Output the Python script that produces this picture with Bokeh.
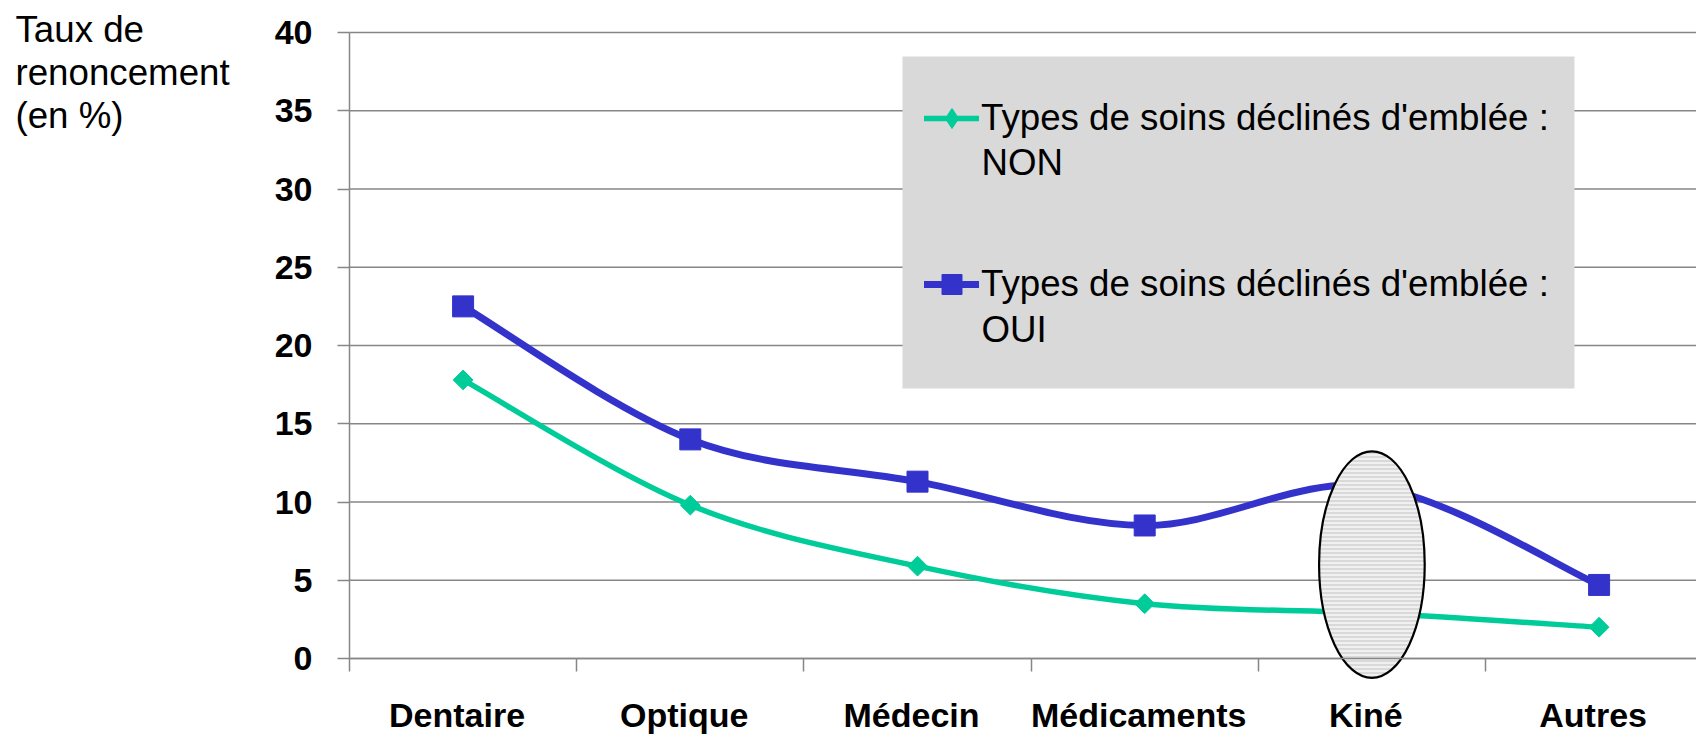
import numpy as np
from bokeh.plotting import figure
from bokeh.models import (Range1d, FixedTicker, BoxAnnotation, Label, Legend, LegendItem)
from bokeh.embed import file_html
from bokeh.resources import INLINE

# ---------------- data ----------------
categories = ["Dentaire", "Optique", "Médecin", "Médicaments", "Kiné", "Autres"]
non_values = [17.8, 9.8, 5.9, 3.5, 2.9, 2.0]
oui_values = [22.5, 14.0, 11.3, 8.5, 11.0, 4.7]
y_ticks = [0, 5, 10, 15, 20, 25, 30, 35, 40]
series_label = "Types de soins déclinés d'emblée :"
series_suffix = ["NON", "OUI"]
y_title_lines = ["Taux de", "renoncement", "(en %)"]
highlight_category = "Kiné"

# ---------------- style / layout ----------------
GREEN = "#00CC99"
BLUE = "#3333CC"
GRID = "#868686"
BOX = "#D9D9D9"
FONT = "Liberation Sans"

W, H = 1696, 736
AX_X0, AX_Y0, AX_Y40 = 349, 658, 32      # pixel position of the axes origin / top
CAT_PX = 227.2
Y_MAX = 40.0
Y_PX = (AX_Y0 - AX_Y40) / Y_MAX
TXT_SHIFT = 11
LABEL_DX = 6 / CAT_PX                     # category labels sit slightly left of centre


def dx(px):
    return (px - AX_X0) / CAT_PX


def dy(py):
    return (AX_Y0 - py) / Y_PX


n = len(categories)
xs = [i + 0.5 for i in range(n)]
X_END = dx(W)


def bezier_segments(x, y):
    x = np.asarray(x, float)
    y = np.asarray(y, float)
    m = len(x)
    d = dict(x0=[], y0=[], x1=[], y1=[], cx0=[], cy0=[], cx1=[], cy1=[])
    for i in range(m - 1):
        ip = max(i - 1, 0)
        inn = min(i + 2, m - 1)
        d["x0"].append(x[i]); d["y0"].append(y[i])
        d["x1"].append(x[i + 1]); d["y1"].append(y[i + 1])
        d["cx0"].append(x[i] + (x[i + 1] - x[ip]) / 6)
        d["cy0"].append(y[i] + (y[i + 1] - y[ip]) / 6)
        d["cx1"].append(x[i + 1] - (x[inn] - x[i]) / 6)
        d["cy1"].append(y[i + 1] - (y[inn] - y[i]) / 6)
    return d


p = figure(width=W, height=H, x_range=Range1d(dx(0), dx(W)), y_range=Range1d(dy(H), dy(0)),
           min_border=0, min_border_left=0, min_border_right=0, min_border_top=0,
           min_border_bottom=0, output_backend="svg", toolbar_location=None,
           outline_line_color=None, background_fill_color="white", border_fill_color="white")

# grid (horizontal lines across the plotting area)
p.xgrid.visible = False
p.ygrid.visible = False
p.segment(x0=[0] * len(y_ticks), y0=y_ticks, x1=[X_END] * len(y_ticks), y1=y_ticks,
          line_color=GRID, line_width=1.5)

# y axis
p.yaxis.fixed_location = 0
p.yaxis.bounds = (0, Y_MAX)
p.yaxis.ticker = FixedTicker(ticks=y_ticks)
p.yaxis.axis_line_color = GRID
p.yaxis.axis_line_width = 1.5
p.yaxis.major_tick_line_color = GRID
p.yaxis.major_tick_line_width = 1.5
p.yaxis.major_tick_out = 12
p.yaxis.major_tick_in = 0
p.yaxis.minor_tick_out = 0
p.yaxis.minor_tick_in = 0
p.yaxis.major_label_text_font = FONT
p.yaxis.major_label_text_font_style = "bold"
p.yaxis.major_label_text_font_size = "34px"
p.yaxis.major_label_text_color = "black"
p.yaxis.major_label_standoff = 25

# x axis
label_pos = [x - LABEL_DX for x in xs]
p.xaxis.fixed_location = 0
p.xaxis.bounds = (0, n)
p.xaxis.ticker = FixedTicker(ticks=label_pos, minor_ticks=list(range(n + 1)))
p.xaxis.major_label_overrides = {x: c for x, c in zip(label_pos, categories)}
p.xaxis.axis_line_color = GRID
p.xaxis.axis_line_width = 1.5
p.xaxis.major_tick_out = 0
p.xaxis.major_tick_in = 0
p.xaxis.minor_tick_out = 13
p.xaxis.minor_tick_in = 0
p.xaxis.minor_tick_line_color = GRID
p.xaxis.minor_tick_line_width = 1.5
p.xaxis.major_label_text_font = FONT
p.xaxis.major_label_text_font_style = "bold"
p.xaxis.major_label_text_font_size = "34px"
p.xaxis.major_label_text_color = "black"
p.xaxis.major_label_standoff = 24

# smoothed lines
non_line = p.bezier(line_color=GREEN, line_width=5.5, line_cap="round", **bezier_segments(xs, non_values))
oui_line = p.bezier(line_color=BLUE, line_width=7, line_cap="round", **bezier_segments(xs, oui_values))

non_pts = p.scatter(xs, non_values, marker="square", angle=np.pi / 4, size=14,
                    fill_color=GREEN, line_color=GREEN)
oui_pts = p.scatter(xs, oui_values, marker="square", size=21,
                    fill_color=BLUE, line_color=BLUE)
# legend-only diamond (legend samples ignore marker angle)
non_leg_pts = p.scatter(xs, non_values, marker="diamond", size=20,
                        fill_color=GREEN, line_color=GREEN, visible=False)

# highlight ellipse over Kiné
k = categories.index(highlight_category)
p.ellipse(x=[k + 0.5], y=[6.0], width=[0.465], height=[14.5],
          fill_color=BOX, hatch_pattern="horizontal_line", hatch_color="white",
          hatch_scale=4, hatch_weight=1.2, line_color="black", line_width=2.2)

# legend box
p.add_layout(BoxAnnotation(left=dx(902), right=dx(1574), top=dy(56), bottom=dy(388),
                           fill_color=BOX, fill_alpha=1, line_color=None))

legend = Legend(items=[LegendItem(label=series_label, renderers=[non_line, non_leg_pts]),
                       LegendItem(label=series_label, renderers=[oui_line, oui_pts])],
                location=(924, 427), orientation="vertical", padding=0, margin=0,
                spacing=116, glyph_width=55, glyph_height=50, label_height=50,
                label_standoff=2, label_text_font=FONT, label_text_font_size="36.7px",
                label_text_color="black", click_policy="none",
                background_fill_alpha=0, border_line_alpha=0)
p.add_layout(legend, "center")

for txt, py in zip(series_suffix, [173, 340]):
    p.add_layout(Label(x=dx(981), y=dy(py - TXT_SHIFT), text=txt, text_font=FONT,
                       text_font_size="36.7px", text_baseline="alphabetic", text_color="black"))

for txt, py in zip(y_title_lines, [40, 83, 126]):
    p.add_layout(Label(x=dx(15), y=dy(py - TXT_SHIFT), text=txt, text_font=FONT,
                       text_font_size="36.7px", text_baseline="alphabetic", text_color="black"))

open("out.html", "w").write(file_html(p, INLINE))
